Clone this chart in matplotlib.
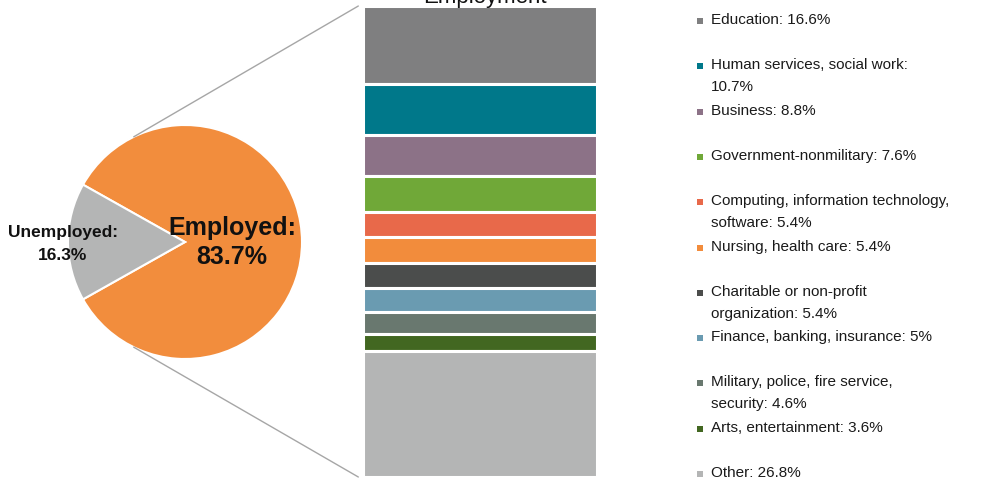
import matplotlib
matplotlib.use("Agg")
import matplotlib.pyplot as plt
from matplotlib.patches import ConnectionPatch, Rectangle
import numpy as np

plt.rcParams['font.family'] = ['Liberation Sans', 'DejaVu Sans']

# ---- data ----
pie_labels = ["Employed:\n83.7%", "Unemployed:\n16.3%"]
pie_values = [83.7, 16.3]
pie_colors = ["#f28d3d", "#b4b5b5"]

bar_categories = [
    "Education", "Human services, social work", "Business",
    "Government-nonmilitary", "Computing, information technology, software",
    "Nursing, health care", "Charitable or non-profit organization",
    "Finance, banking, insurance", "Military, police, fire service, security",
    "Arts, entertainment", "Other",
]
bar_values = [16.6, 10.7, 8.8, 7.6, 5.4, 5.4, 5.4, 5.0, 4.6, 3.6, 26.8]
bar_colors = ["#7f7f80", "#00788a", "#8c7287", "#70a838", "#e8694a",
              "#f28c3c", "#4b4d4c", "#6a9bb1", "#69786f", "#426721", "#b4b5b5"]
legend_labels = [
    "Education: 16.6%",
    "Human services, social work:\n10.7%",
    "Business: 8.8%",
    "Government-nonmilitary: 7.6%",
    "Computing, information technology,\nsoftware: 5.4%",
    "Nursing, health care: 5.4%",
    "Charitable or non-profit\norganization: 5.4%",
    "Finance, banking, insurance: 5%",
    "Military, police, fire service,\nsecurity: 4.6%",
    "Arts, entertainment: 3.6%",
    "Other: 26.8%",
]
bar_title = "Employment"

W, H = 1003, 484
fig = plt.figure(figsize=(W / 100, H / 100), dpi=100)

def px_rect(x0, y0, x1, y1):
    return [x0 / W, 1 - y1 / H, (x1 - x0) / W, (y1 - y0) / H]

def fy(y):
    return 1 - y / H

# ---- pie ----
cx, cy, r = 185, 242, 117
ax_pie = fig.add_axes(px_rect(cx - r, cy - r, cx + r, cy + r))
unemp_frac = pie_values[1] / sum(pie_values)
start = 180 + unemp_frac * 360 / 2
wedges, _ = ax_pie.pie(pie_values, colors=pie_colors, startangle=start,
                       counterclock=True, radius=1,
                       wedgeprops=dict(edgecolor="white", linewidth=1.5))
ax_pie.set_xlim(-1, 1)
ax_pie.set_ylim(-1, 1)
ax_pie.set_aspect("equal")
ax_pie.axis("off")

# pie labels (two lines each, placed in figure pixels)
emp_lines = pie_labels[0].split("\n")
fig.text(232 / W, fy(228), emp_lines[0], ha="center", va="center",
         fontsize=18, fontweight="bold", color="#111111")
fig.text(232 / W, fy(257), emp_lines[1], ha="center", va="center",
         fontsize=18, fontweight="bold", color="#111111")
un_lines = pie_labels[1].split("\n")
fig.text(63 / W, fy(233), un_lines[0], ha="center", va="center",
         fontsize=12.5, fontweight="bold", color="#111111")
fig.text(63 / W, fy(255), un_lines[1], ha="center", va="center",
         fontsize=12.5, fontweight="bold", color="#111111")

# ---- stacked bar ----
ax_bar = fig.add_axes(px_rect(363, 6, 597, 477))
total = sum(bar_values)
bottom = 0.0
for v, c in zip(bar_values, bar_colors):
    ax_bar.bar(0, v, bottom=bottom, width=1.0, color=c, edgecolor="white",
               linewidth=2.2)
    bottom += v
ax_bar.set_xlim(-0.5, 0.5)
ax_bar.set_ylim(total, 0)
ax_bar.axis("off")

fig.text(485 / W, fy(3), bar_title, ha="center", va="baseline",
         fontsize=16, color="#111111")

# ---- connector lines ----
ang = np.deg2rad(116)
for sgn, ybar in ((1, 0), (-1, total)):
    p = (np.cos(ang), sgn * np.sin(ang))
    con = ConnectionPatch(xyA=p, coordsA=ax_pie.transData,
                          xyB=(-0.52, ybar), coordsB=ax_bar.transData,
                          color="#a6a6a6", linewidth=1.0)
    fig.add_artist(con)

# ---- legend ----
x_sq, x_txt = 700, 711
y0, step, line_h = 20, 45.3, 22
for i, (lab, c) in enumerate(zip(legend_labels, bar_colors)):
    y = y0 + i * step
    fig.add_artist(Rectangle(((x_sq - 3) / W, fy(y + 4)), 6 / W, 6 / H,
                             transform=fig.transFigure, color=c, linewidth=0))
    for j, line in enumerate(lab.split("\n")):
        fig.text(x_txt / W, fy(y + j * line_h), line, ha="left",
                 va="center", fontsize=11, color="#1a1a1a")

fig.savefig("out.png", dpi=100)
